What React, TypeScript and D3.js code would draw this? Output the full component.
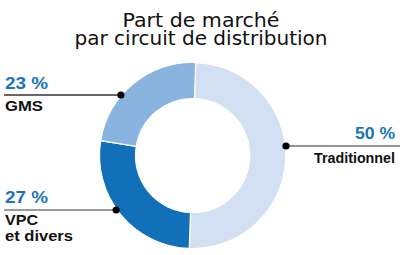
import React from "react";
import * as d3 from "d3";

// ---- data ----
const titleLines = ["Part de marché", "par circuit de distribution"];
const categories = ["Traditionnel", "VPC et divers", "GMS"];
const values = [50, 27, 23];
const percentLabels = ["50 %", "27 %", "23 %"];
const nameLines = [["Traditionnel"], ["VPC", "et divers"], ["GMS"]];

// ---- layout / style ----
const W = 400;
const H = 255;
const cx = 192.5;
const cy = 155.5;
const R = 93;
const r0 = 57;
const startDeg = 2;
const colors = ["#d3dff2", "#1170b8", "#8ab4e0"];
const pctColor = "#1a73ba";
const labelLayout = [
  { side: "right", lineY: 146, pctY: 139, nameY: [163], pctW: 40, nameW: [81], lineColor: "#6f6f6f" },
  { side: "left", lineY: 210, pctY: 203, nameY: [225, 241], pctW: 43, nameW: [33, 68], lineColor: "#7a7a7a" },
  { side: "left", lineY: 95, pctY: 89, nameY: [111], pctW: 43, nameW: [38], lineColor: "#333333" },
];
const titleLayout = [
  { y: 27, w: 157 },
  { y: 44.5, w: 253 },
];

export default function App() {
  const start = (startDeg * Math.PI) / 180;
  const pie = d3
    .pie<number>()
    .sort(null)
    .startAngle(start)
    .endAngle(start + 2 * Math.PI)
    .value((d) => d);
  const arcs = pie(values);
  const arc = d3.arc<d3.PieArcDatum<number>>().innerRadius(r0).outerRadius(R);

  return (
    <svg
      width={W}
      height={H}
      style={{ position: "absolute", left: 0, top: 0, display: "block" }}
    >
      <rect width={W} height={H} fill="#ffffff" />
      {titleLines.map((t, i) => (
        <text
          key={t}
          x={201}
          y={titleLayout[i].y}
          textAnchor="middle"
          fontFamily="DejaVu Sans"
          fontSize={19.5}
          fill="#111"
          textLength={titleLayout[i].w}
          lengthAdjust="spacingAndGlyphs"
        >
          {t}
        </text>
      ))}
      <g transform={`translate(${cx},${cy})`}>
        {arcs.map((a, i) => (
          <path
            key={categories[i]}
            d={arc(a) || ""}
            fill={colors[i]}
            stroke="#ffffff"
            strokeWidth={1.2}
          />
        ))}
      </g>
      {categories.map((c, i) => {
        const L = labelLayout[i];
        const dy = L.lineY - cy;
        const dx = Math.sqrt(Math.max(0, R * R - dy * dy)) + 1;
        const right = L.side === "right";
        const dotX = right ? cx + dx : cx - dx;
        const x1 = right ? dotX : 4;
        const x2 = right ? 400 : dotX;
        const tx = right ? 395 : 5;
        const anchor = right ? "end" : "start";
        return (
          <g key={c}>
            <line
              x1={x1}
              x2={x2}
              y1={L.lineY}
              y2={L.lineY}
              stroke={L.lineColor}
              strokeWidth={1.4}
            />
            <circle cx={dotX} cy={L.lineY} r={3.6} fill="#000" />
            <text
              x={tx}
              y={L.pctY}
              textAnchor={anchor}
              fontFamily="Liberation Sans"
              fontWeight="bold"
              fontSize={17}
              fill={pctColor}
              textLength={L.pctW}
              lengthAdjust="spacingAndGlyphs"
            >
              {percentLabels[i]}
            </text>
            {nameLines[i].map((n, j) => (
              <text
                key={n}
                x={tx}
                y={L.nameY[j]}
                textAnchor={anchor}
                fontFamily="Liberation Sans"
                fontWeight="bold"
                fontSize={15.5}
                fill="#111"
                textLength={L.nameW[j]}
                lengthAdjust="spacingAndGlyphs"
              >
                {n}
              </text>
            ))}
          </g>
        );
      })}
    </svg>
  );
}
